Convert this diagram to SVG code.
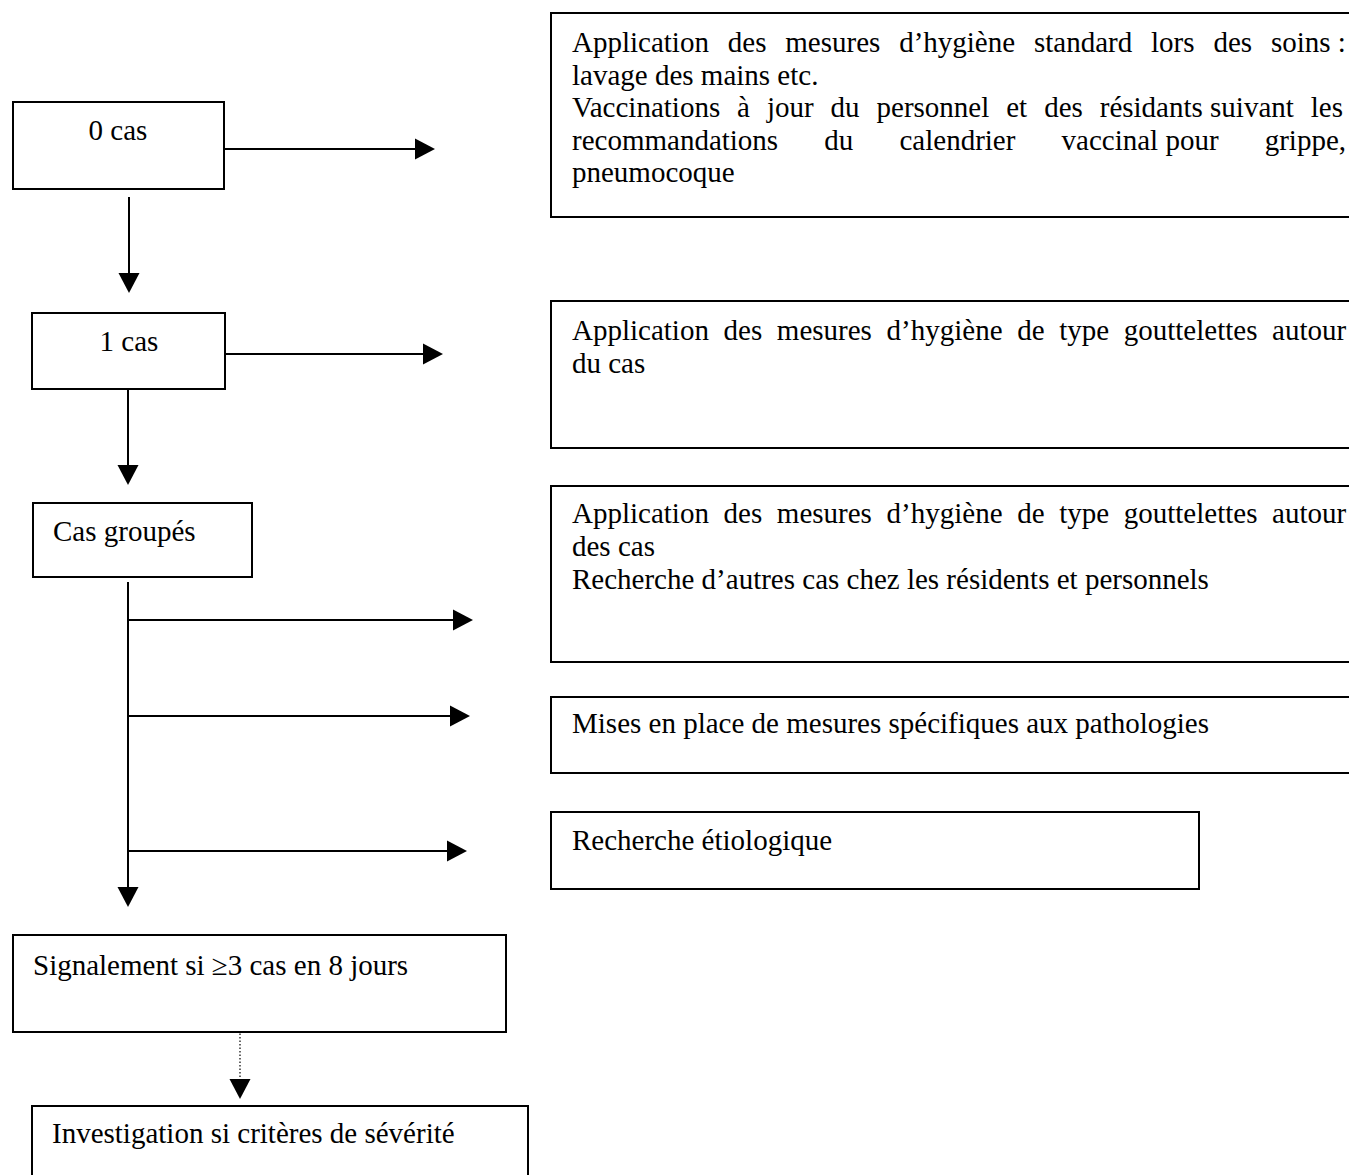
<svg xmlns="http://www.w3.org/2000/svg" width="1349" height="1175" viewBox="0 0 1349 1175">
<style>
  .box { fill: #fff; stroke: #000; stroke-width: 2; }
  .t { font-family: "Liberation Serif", "Times New Roman", serif; font-size: 29px; fill: #000; }
  .c { fill: none; stroke: #000; stroke-width: 2; }
  .dot { fill: none; stroke: #000; stroke-width: 1.2; stroke-dasharray: 1.5 2; }
</style>
<defs>
  <marker id="ah" markerUnits="userSpaceOnUse" markerWidth="21" markerHeight="22" refX="0" refY="10.5" orient="auto" overflow="visible">
    <path d="M0,0 L20,10.5 L0,21 Z" fill="#000"/>
  </marker>
</defs>
<rect width="1349" height="1175" fill="#fff"/>

<g id="connectors">
  <line class="c" x1="224" y1="149" x2="415" y2="149" marker-end="url(#ah)"/>
  <line class="c" x1="129" y1="197" x2="129" y2="273" marker-end="url(#ah)"/>
  <line class="c" x1="225" y1="354" x2="423" y2="354" marker-end="url(#ah)"/>
  <line class="c" x1="128" y1="390" x2="128" y2="465" marker-end="url(#ah)"/>
  <line class="c" x1="128" y1="582" x2="128" y2="887" marker-end="url(#ah)"/>
  <line class="c" x1="128" y1="620" x2="453" y2="620" marker-end="url(#ah)"/>
  <line class="c" x1="128" y1="716" x2="450" y2="716" marker-end="url(#ah)"/>
  <line class="c" x1="128" y1="851" x2="447" y2="851" marker-end="url(#ah)"/>
  <line class="dot" x1="240" y1="1023" x2="240" y2="1079" marker-end="url(#ah)"/>
</g>

<g id="n-0cas">
  <rect class="box" x="13" y="102" width="211" height="87"/>
  <text class="t" x="118" y="140" text-anchor="middle">0 cas</text>
</g>
<g id="n-1cas">
  <rect class="box" x="32" y="313" width="193" height="76"/>
  <text class="t" x="129" y="351" text-anchor="middle">1 cas</text>
</g>
<g id="n-groupes">
  <rect class="box" x="33" y="503" width="219" height="74"/>
  <text class="t" x="53" y="541">Cas groupés</text>
</g>
<g id="n-signalement">
  <rect class="box" x="13" y="935" width="493" height="97"/>
  <text class="t" x="33" y="975">Signalement si ≥3 cas en 8 jours</text>
</g>
<g id="n-investigation">
  <rect class="box" x="32" y="1106" width="496" height="100"/>
  <text class="t" x="52" y="1143">Investigation si critères de sévérité</text>
</g>

<g id="r-standard">
  <rect class="box" x="551" y="13" width="820" height="204"/>
  <text class="t" x="572" y="52" style="word-spacing:11.6px">Application des mesures d’hygiène standard lors des <tspan style="word-spacing:0">soins :</tspan></text>
  <text class="t" x="572" y="84.5">lavage des mains etc.</text>
  <text class="t" x="572" y="117" style="word-spacing:9.7px">Vaccinations à jour du personnel et des <tspan style="word-spacing:0">résidants suivant</tspan> les</text>
  <text class="t" x="572" y="149.5" style="word-spacing:38.9px">recommandations du calendrier <tspan style="word-spacing:0">vaccinal pour</tspan> grippe,</text>
  <text class="t" x="572" y="182">pneumocoque</text>
</g>
<g id="r-1cas">
  <rect class="box" x="551" y="301" width="820" height="147"/>
  <text class="t" x="572" y="340" style="word-spacing:7.4px">Application des mesures d’hygiène de type gouttelettes autour</text>
  <text class="t" x="572" y="373">du cas</text>
</g>
<g id="r-groupes">
  <rect class="box" x="551" y="486" width="820" height="176"/>
  <text class="t" x="572" y="523" style="word-spacing:7.4px">Application des mesures d’hygiène de type gouttelettes autour</text>
  <text class="t" x="572" y="556">des cas</text>
  <text class="t" x="572" y="589">Recherche d’autres cas chez les résidents et personnels</text>
</g>
<g id="r-specifiques">
  <rect class="box" x="551" y="697" width="820" height="76"/>
  <text class="t" x="572" y="733">Mises en place de mesures spécifiques aux pathologies</text>
</g>
<g id="r-etiologique">
  <rect class="box" x="551" y="812" width="648" height="77"/>
  <text class="t" x="572" y="850">Recherche étiologique</text>
</g>
</svg>
